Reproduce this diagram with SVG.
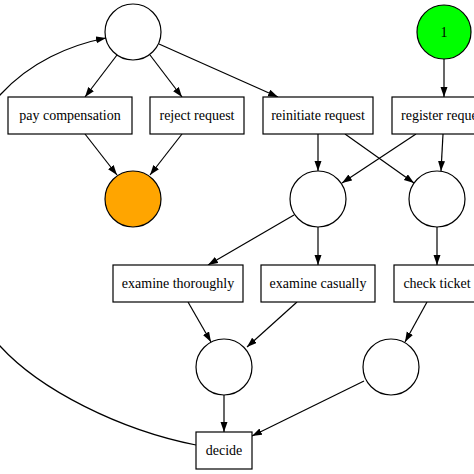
<svg xmlns="http://www.w3.org/2000/svg" width="474" height="474" viewBox="0 0 474 474">
<style>
.n{fill:#fff;stroke:#000;stroke-width:1.2}
.t{font-family:"Liberation Serif","Times New Roman",serif;font-size:14px;text-anchor:middle;fill:#000}
.e{fill:none;stroke:#000;stroke-width:1.2}
</style>
<defs>
<marker id="a" markerUnits="userSpaceOnUse" markerWidth="12" markerHeight="10" refX="10" refY="3.5" orient="auto">
<path d="M0,0 L10,3.5 L0,7 Z" fill="#000"/>
</marker>
</defs>
<rect width="474" height="474" fill="#fff"/>
<g id="edges">
<path class="e" marker-end="url(#a)" d="M117,55 L85,97"/>
<path class="e" marker-end="url(#a)" d="M150,55 L182,97"/>
<path class="e" marker-end="url(#a)" d="M159,44 L278,97"/>
<path class="e" marker-end="url(#a)" d="M85,134 L117,175"/>
<path class="e" marker-end="url(#a)" d="M182,134 L150,175"/>
<path class="e" marker-end="url(#a)" d="M444,59 L444,97"/>
<path class="e" marker-end="url(#a)" d="M318,134 L318,171"/>
<path class="e" marker-end="url(#a)" d="M345,134 L414,183"/>
<path class="e" marker-end="url(#a)" d="M416,134 L342,183"/>
<path class="e" marker-end="url(#a)" d="M443,134 L441,171"/>
<path class="e" marker-end="url(#a)" d="M294,215 L208,265"/>
<path class="e" marker-end="url(#a)" d="M318,227 L318,265"/>
<path class="e" marker-end="url(#a)" d="M437,227 L437,265"/>
<path class="e" marker-end="url(#a)" d="M188,302 L211,342"/>
<path class="e" marker-end="url(#a)" d="M297,302 L247,347"/>
<path class="e" marker-end="url(#a)" d="M427,302 L405,342"/>
<path class="e" marker-end="url(#a)" d="M224,395 L224,432"/>
<path class="e" marker-end="url(#a)" d="M364,381 L252,436"/>
<path class="e" marker-end="url(#a)" d="M196,445 C120,430 40,390 0,346 C-60,280 -60,160 0,95 C30,62 70,45 106,38"/>
</g>
<g id="p_top"><circle class="n" cx="133" cy="32" r="28"/></g>
<g id="p_start"><circle class="n" cx="444" cy="32" r="27" style="fill:#00ff00"/><text class="t" x="444" y="37">1</text></g>
<g id="t_pay"><rect class="n" x="8" y="97" width="124" height="37"/><text class="t" x="70" y="120">pay compensation</text></g>
<g id="t_reject"><rect class="n" x="150" y="97" width="94" height="37"/><text class="t" x="197" y="120">reject request</text></g>
<g id="t_reinit"><rect class="n" x="263" y="97" width="110" height="37"/><text class="t" x="318" y="120">reinitiate request</text></g>
<g id="t_register"><rect class="n" x="392" y="97" width="104" height="37"/><text class="t" x="444" y="120">register request</text></g>
<g id="p_end"><circle class="n" cx="133" cy="199" r="28" style="fill:#ffa500"/></g>
<g id="p_c1"><circle class="n" cx="318" cy="199" r="28"/></g>
<g id="p_c2"><circle class="n" cx="437" cy="199" r="28"/></g>
<g id="t_thorough"><rect class="n" x="113" y="265" width="130" height="37"/><text class="t" x="178" y="288">examine thoroughly</text></g>
<g id="t_casual"><rect class="n" x="261" y="265" width="114" height="37"/><text class="t" x="318" y="288">examine casually</text></g>
<g id="t_check"><rect class="n" x="394" y="265" width="86" height="37"/><text class="t" x="437" y="288">check ticket</text></g>
<g id="p_c3"><circle class="n" cx="224" cy="367" r="28"/></g>
<g id="p_c4"><circle class="n" cx="391" cy="367" r="28"/></g>
<g id="t_decide"><rect class="n" x="196" y="432" width="56" height="37"/><text class="t" x="224" y="455">decide</text></g>
</svg>
